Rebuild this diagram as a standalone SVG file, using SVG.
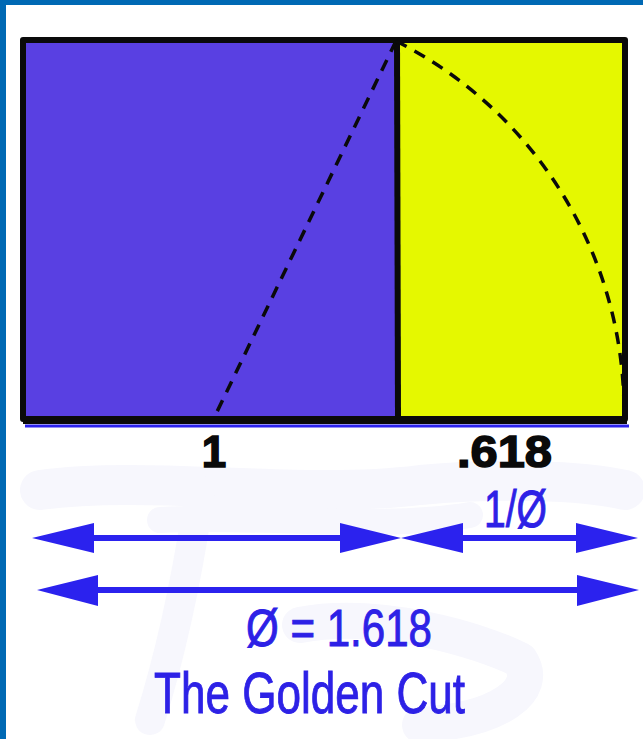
<svg xmlns="http://www.w3.org/2000/svg" width="643" height="739" viewBox="0 0 643 739">
  <style>
    .outline { fill: none; stroke: #0a0a0a; stroke-linejoin: round; }
    .dash { fill: none; stroke: #0a0a0a; stroke-width: 3.5; stroke-dasharray: 12 9; }
    .lbl { font-family: "Liberation Sans", Arial, sans-serif; font-weight: bold; fill: #0a0a0a; stroke: #0a0a0a; stroke-width: 1.5; }
    .btxt { font-family: "Liberation Sans", Arial, sans-serif; fill: #2d21e6; stroke: #2d21e6; stroke-width: 0.9; }
    .arrow { fill: #2b22ee; }
    .brush { fill: none; stroke: #f7f7fd; stroke-linecap: round; stroke-linejoin: round; }
  </style>
  <rect x="0" y="0" width="643" height="739" fill="#ffffff"/>
  <!-- faint background brush -->
  <g id="background-brush">
    <path class="brush" stroke-width="40" d="M40,490 C150,475 300,500 420,485 C500,478 580,480 625,490"/>
    <path class="brush" stroke-width="30" d="M200,490 C190,560 175,640 150,720"/>
    <path class="brush" stroke-width="36" d="M300,625 C380,610 480,640 520,660 C540,690 500,720 420,725"/>
    <path class="brush" stroke-width="26" d="M160,520 C260,515 380,530 470,515"/>
  </g>
  <!-- frame -->
  <g id="frame">
    <rect x="0" y="0" width="643" height="5" fill="#0069b4"/>
    <rect x="0" y="0" width="6" height="739" fill="#0069b4"/>
  </g>
  <!-- square -->
  <g id="square">
    <rect x="23" y="40" width="374" height="380" fill="#5940e2"/>
  </g>
  <g id="remainder">
    <rect x="397" y="40" width="228" height="380" fill="#e5f800"/>
  </g>
  <g id="outline">
    <rect class="outline" x="23" y="40" width="602" height="379" stroke-width="6"/>
    <line x1="397" y1="40" x2="398" y2="419" stroke="#0a0a0a" stroke-width="6"/>
    <line x1="23" y1="420" x2="627" y2="420" stroke="#0a0a0a" stroke-width="8"/>
    <line x1="25" y1="426" x2="629" y2="426" stroke="#2b22ee" stroke-width="3"/>
  </g>
  <!-- construction lines -->
  <g id="connectors">
    <path class="dash" d="M396,41 L214,418"/>
    <path class="dash" d="M396,41 A415,415 0 0 1 624,416"/>
  </g>
  <!-- labels -->
  <g id="label-1">
    <text class="lbl" x="214" y="467" font-size="44" text-anchor="middle">1</text>
  </g>
  <g id="label-618">
    <text class="lbl" x="457" y="467" font-size="44" textLength="95" lengthAdjust="spacingAndGlyphs">.618</text>
  </g>
  <!-- arrows -->
  <g id="arrow-1">
    <rect class="arrow" x="92" y="535" width="250" height="6"/>
    <polygon class="arrow" points="32,538 94,523 94,553"/>
    <polygon class="arrow" points="401,538 340,523 340,553"/>
  </g>
  <g id="arrow-inv-phi">
    <rect class="arrow" x="461" y="535" width="117" height="6"/>
    <polygon class="arrow" points="401,538 463,523 463,553"/>
    <polygon class="arrow" points="638,538 576,523 576,553"/>
  </g>
  <g id="arrow-phi">
    <rect class="arrow" x="96" y="587" width="483" height="6"/>
    <polygon class="arrow" points="37,590 98,575 98,606"/>
    <polygon class="arrow" points="639,590 577,575 577,606"/>
  </g>
  <g id="label-inv-phi">
    <text class="btxt" x="484" y="527" font-size="52" textLength="63" lengthAdjust="spacingAndGlyphs">1/Ø</text>
  </g>
  <g id="label-phi">
    <text class="btxt" x="246" y="646" font-size="51" textLength="186" lengthAdjust="spacingAndGlyphs">Ø = 1.618</text>
  </g>
  <g id="title">
    <text class="btxt" x="154" y="713" font-size="58" textLength="311" lengthAdjust="spacingAndGlyphs">The Golden Cut</text>
  </g>
</svg>
